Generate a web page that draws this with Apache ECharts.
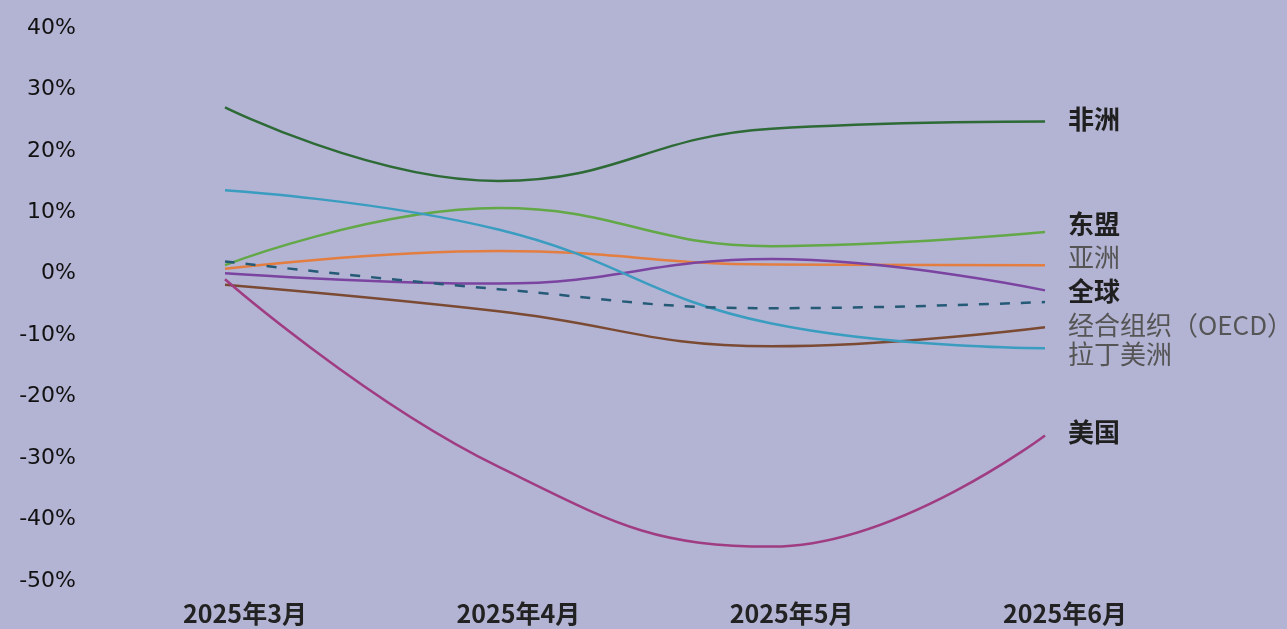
<!DOCTYPE html>
<html>
<head>
<meta charset="utf-8">
<script src="https://cdn.jsdelivr.net/npm/echarts@6/dist/echarts.min.js"></script>
<style>
html,body{margin:0;padding:0;background:#b3b3d4;}
#main{width:1287px;height:629px;}
</style>
</head>
<body>
<div id="main"></div>
<script>
var categories = ['2025年3月', '2025年4月', '2025年5月', '2025年6月'];
var yTicks = [-50, -40, -30, -20, -10, 0, 10, 20, 30, 40];

var africa = [27.1, 15.1, 23.6, 24.8];
var asean = [1.4, 10.7, 4.5, 6.8];
var asia = [0.8, 3.7, 1.5, 1.4];
var purpleSeries = [0.1, -1.6, 2.4, -2.7];
var world = [2.0, -2.5, -5.6, -4.6];
var oecd = [-1.8, -6.1, -11.8, -8.7];
var latam = [13.6, 7.2, -8.1, -12.1];
var usa = [-0.9, -31.4, -44.4, -26.3];

function mk(name, data, color, label, opts) {
  opts = opts || {};
  var s = {
    name: name,
    type: 'line',
    data: data,
    smooth: 0.45,
    symbol: 'none',
    lineStyle: { color: color, width: 2.5, type: opts.dash ? [10, 11] : 'solid' },
    z: opts.z || 2
  };
  if (label) {
    s.endLabel = {
      show: true,
      formatter: label,
      distance: 23,
      offset: [0, opts.dy || 0],
      fontFamily: 'Noto Sans CJK SC',
      fontSize: 26,
      fontWeight: opts.bold ? 'bold' : 'normal',
      color: opts.bold ? '#1f1f1f' : '#555555'
    };
  }
  return s;
}

var chart = echarts.init(document.getElementById('main'));
chart.setOption({
  backgroundColor: '#b3b3d4',
  animation: false,
  grid: { left: 225, right: 242, top: 28, bottom: 48, containLabel: false },
  xAxis: {
    type: 'category',
    data: categories,
    boundaryGap: false,
    axisLine: { show: false },
    axisTick: { show: false },
    splitLine: { show: false },
    axisLabel: {
      margin: 20,
      padding: [0, 0, 0, 40],
      fontFamily: 'Noto Sans CJK SC',
      fontWeight: 'bold',
      fontSize: 25,
      color: '#222222'
    }
  },
  yAxis: {
    type: 'value',
    min: -50,
    max: 40,
    interval: 10,
    axisLine: { show: false },
    axisTick: { show: false },
    splitLine: { show: false },
    axisLabel: {
      margin: 149,
      fontFamily: 'DejaVu Sans',
      fontSize: 22,
      color: '#111111',
      formatter: function (v) { return yTicks.indexOf(v) >= 0 ? v + '%' : ''; }
    }
  },
  series: [
    mk('非洲', africa, '#2d6a36', '非洲', { bold: true, dy: -2 }),
    mk('东盟', asean, '#62a847', '东盟', { bold: true, dy: -8 }),
    mk('亚洲', asia, '#e37e40', '亚洲', { dy: -8 }),
    mk('其他', purpleSeries, '#7a44a0', null),
    mk('全球', world, '#245a76', '全球', { bold: true, dash: true, dy: -11, z: 3 }),
    mk('经合组织', oecd, '#7b4a33', '经合组织（OECD）', { dy: -2 }),
    mk('拉丁美洲', latam, '#3a9dc0', '拉丁美洲', { dy: 6 }),
    mk('美国', usa, '#a03c82', '美国', { bold: true, dy: -3 })
  ]
});
</script>
</body>
</html>
